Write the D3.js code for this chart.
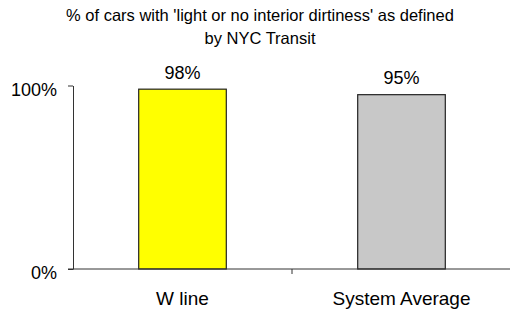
<!DOCTYPE html>
<html>
<head>
<meta charset="utf-8">
<script src="https://cdn.jsdelivr.net/npm/d3@7"></script>
<style>
  body { margin: 0; background: #fff; overflow: hidden; }
  svg { display: block; }
  text { font-family: Arial, 'Liberation Sans', sans-serif; fill: #000; }
</style>
</head>
<body>
<script>
// chart data
var categories = ['W line', 'System Average']
var values = [0.98, 0.95]
var barColors = ['#ffff00', '#c8c8c8']
var valueLabels = ['98%', '95%']
var yTicks = [0, 1]
var titleLines = ["% of cars with 'light or no interior dirtiness' as defined", 'by NYC Transit']

var width = 510
var height = 309

var svg = d3.select('body').append('svg')
  .attr('width', width)
  .attr('height', height)

// scales
var x = d3.scaleBand().domain(categories).range([73, 511])
  .paddingInner(0.6).paddingOuter(0.3)
var y = d3.scaleLinear().domain([0, 1]).range([269, 85.5])

// title
svg.append('g').selectAll('text')
  .data(titleLines)
  .enter().append('text')
  .attr('x', 260)
  .attr('y', function (d, i) { return 20.5 + i * 23.5 })
  .attr('text-anchor', 'middle')
  .style('font-size', '16.5px')
  .text(function (d) { return d })

// bars
svg.selectAll('.bar')
  .data(values)
  .enter().append('rect')
  .attr('class', 'bar')
  .attr('x', function (d, i) { return x(categories[i]) })
  .attr('width', x.bandwidth())
  .attr('y', function (d) { return y(d) })
  .attr('height', function (d) { return y(0) - y(d) })
  .style('fill', function (d, i) { return barColors[i] })
  .style('stroke', '#222')
  .style('stroke-width', 1.2)

// value labels
svg.selectAll('.vlabel')
  .data(values)
  .enter().append('text')
  .attr('class', 'vlabel')
  .attr('x', function (d, i) { return x(categories[i]) + x.bandwidth() / 2 })
  .attr('y', function (d) { return y(d) - 10.5 })
  .attr('text-anchor', 'middle')
  .style('font-size', '18px')
  .text(function (d, i) { return valueLabels[i] })

// y axis
var yAxis = d3.axisLeft(y)
  .tickValues(yTicks)
  .tickSize(5)
  .tickSizeOuter(0)
  .tickPadding(11)
  .tickFormat(d3.format('.0%'))
var gy = svg.append('g')
  .attr('transform', 'translate(73,0)')
  .call(yAxis)
gy.select('.domain').attr('stroke', '#333')
gy.selectAll('.tick line').attr('stroke', '#333')
gy.selectAll('.tick text')
  .attr('dy', '0.53em')
  .style('font-size', '18px')
  .style('font-family', 'Arial, Liberation Sans, sans-serif')
  .attr('fill', '#000')

// x axis
var xAxis = d3.axisBottom(x).tickSize(0).tickPadding(23)
var gx = svg.append('g')
  .attr('transform', 'translate(0,' + y(0) + ')')
  .call(xAxis)
gx.select('.domain').remove()
gx.selectAll('.tick text')
  .style('font-size', '19px')
  .style('font-family', 'Arial, Liberation Sans, sans-serif')
  .attr('fill', '#000')

gx.append('line')
  .attr('x1', 68).attr('x2', 510)
  .attr('y1', 0).attr('y2', 0)
  .attr('stroke', '#333')

// category separator tick
var sep = x(categories[1]) - x.paddingInner() * x.step() / 2
gx.append('line')
  .attr('x1', sep).attr('x2', sep)
  .attr('y1', 0).attr('y2', 5)
  .attr('stroke', '#333')
</script>
</body>
</html>
